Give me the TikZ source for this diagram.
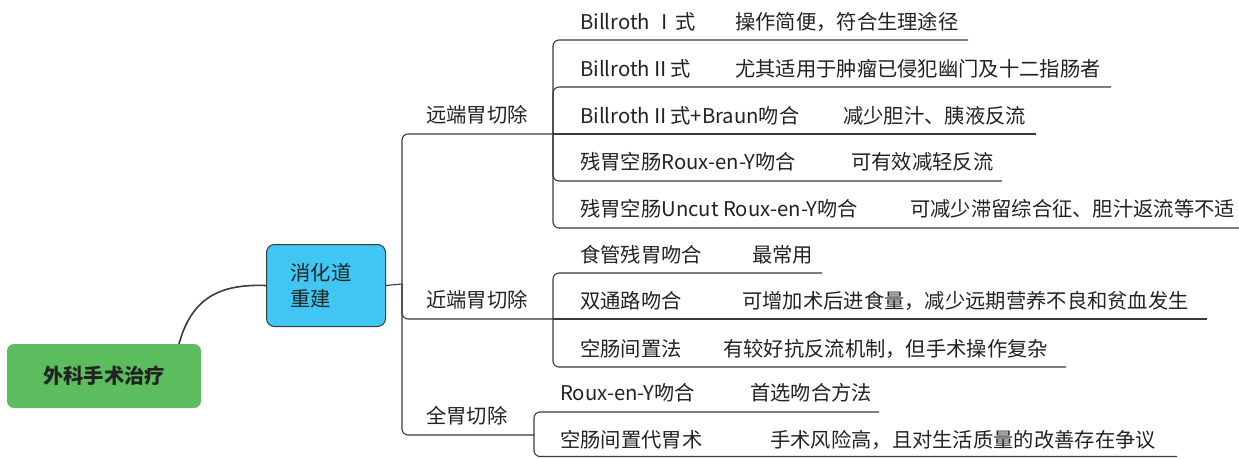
\documentclass[tikz,border=0pt]{standalone}
\usepackage{fontspec}
\setmainfont{Noto Sans CJK SC}
\definecolor{linegray}{HTML}{3A3A3A}
\definecolor{txt}{HTML}{222222}
\definecolor{rootgreen}{HTML}{5CBD5E}
\definecolor{boxblue}{HTML}{40C6F2}
\tikzset{
  conn/.style={draw=linegray, line width=1.1pt, rounded corners=6pt},
  maincurve/.style={draw=linegray, line width=1.6pt},
  lbl/.style={anchor=west, inner sep=0pt, text=txt, font=\fontsize{20.3}{24}\selectfont},
  rootbox/.style={fill=rootgreen, rounded corners=7pt, minimum width=194pt, minimum height=64pt, inner sep=0pt, text=txt, font=\fontsize{20.3}{24}\selectfont\bfseries},
  recbox/.style={fill=boxblue, draw=linegray, line width=1pt, rounded corners=8pt, minimum height=82pt, inner xsep=24pt, inner ysep=0pt, text width=71pt, align=left, text=txt, font=\fontsize{20.3}{26}\selectfont}
}
\begin{document}
\begin{tikzpicture}[x=1pt,y=-1pt]
\useasboundingbox (0,0) rectangle (1239,458);
% main nodes
\node[rootbox] (root) at (104,376) {外科手术治疗};
\node[recbox, anchor=north west] (rec) at (266,244) {消化道\\重建};
\coordinate (rootc) at (179,344);
\draw[maincurve] (rootc) .. controls (192,296) and (222,284) .. (rec.west);
% hubs
\coordinate (h0) at (402,284);
\coordinate (h1) at (553,134);
\coordinate (h2) at (553,319);
\coordinate (h3) at (534,435);
\draw[conn] (rec.east) -- (h0);
\draw[conn] (h0) |- (h1);
\draw[conn] (h0) |- (h2);
\draw[conn] (h0) |- (h3);
% level-1 labels
\node[lbl] (dist) at (426,115) {远端胃切除};
\node[lbl] (prox) at (426,300) {近端胃切除};
\node[lbl] (tot) at (426,416) {全胃切除};
% distal leaves
\node[lbl] (a1) at (580,22) {Billroth Ⅰ式};
\node[lbl] (b1) at (735,22) {操作简便，符合生理途径};
\node[lbl] (a2) at (580,69) {BillrothⅡ式};
\node[lbl] (b2) at (735,69) {尤其适用于肿瘤已侵犯幽门及十二指肠者};
\node[lbl] (a3) at (580,116) {BillrothⅡ式+Braun吻合};
\node[lbl] (b3) at (843,116) {减少胆汁、胰液反流};
\node[lbl] (a4) at (580,162) {残胃空肠Roux-en-Y吻合};
\node[lbl] (b4) at (851,162) {可有效减轻反流};
\node[lbl] (a5) at (580,209) {残胃空肠Uncut Roux-en-Y吻合};
\node[lbl] (b5) at (910,209) {可减少滞留综合征、胆汁返流等不适};
\coordinate (e1) at (968,40);
\coordinate (e2) at (1111,87);
\coordinate (e3) at (1036,134);
\coordinate (e4) at (1002,181);
\coordinate (e5) at (1240,228);
\draw[conn] (h1) |- (e1);
\draw[conn] (h1) |- (e2);
\draw[conn] (h1) -- (e3);
\draw[conn] (h1) |- (e4);
\draw[conn] (h1) |- (e5);
% proximal leaves
\node[lbl] (c1) at (580,255) {食管残胃吻合};
\node[lbl] (d1) at (752,255) {最常用};
\node[lbl] (c2) at (580,301) {双通路吻合};
\node[lbl] (d2) at (742,301) {可增加术后进食量，减少远期营养不良和贫血发生};
\node[lbl] (c3) at (580,349) {空肠间置法};
\node[lbl] (d3) at (723,349) {有较好抗反流机制，但手术操作复杂};
\coordinate (f1) at (822,273);
\coordinate (f2) at (1207,319);
\coordinate (f3) at (1066,367);
\draw[conn] (h2) |- (f1);
\draw[conn] (h2) -- (f2);
\draw[conn] (h2) |- (f3);
% total leaves
\node[lbl] (g1) at (560,393) {Roux-en-Y吻合};
\node[lbl] (k1) at (750,393) {首选吻合方法};
\node[lbl] (g2) at (560,440) {空肠间置代胃术};
\node[lbl] (k2) at (770,440) {手术风险高，且对生活质量的改善存在争议};
\coordinate (m1) at (879,412);
\coordinate (m2) at (1177,456.5);
\draw[conn] (h3) |- (m1);
\draw[conn] (h3) |- (m2);
\end{tikzpicture}
\end{document}
